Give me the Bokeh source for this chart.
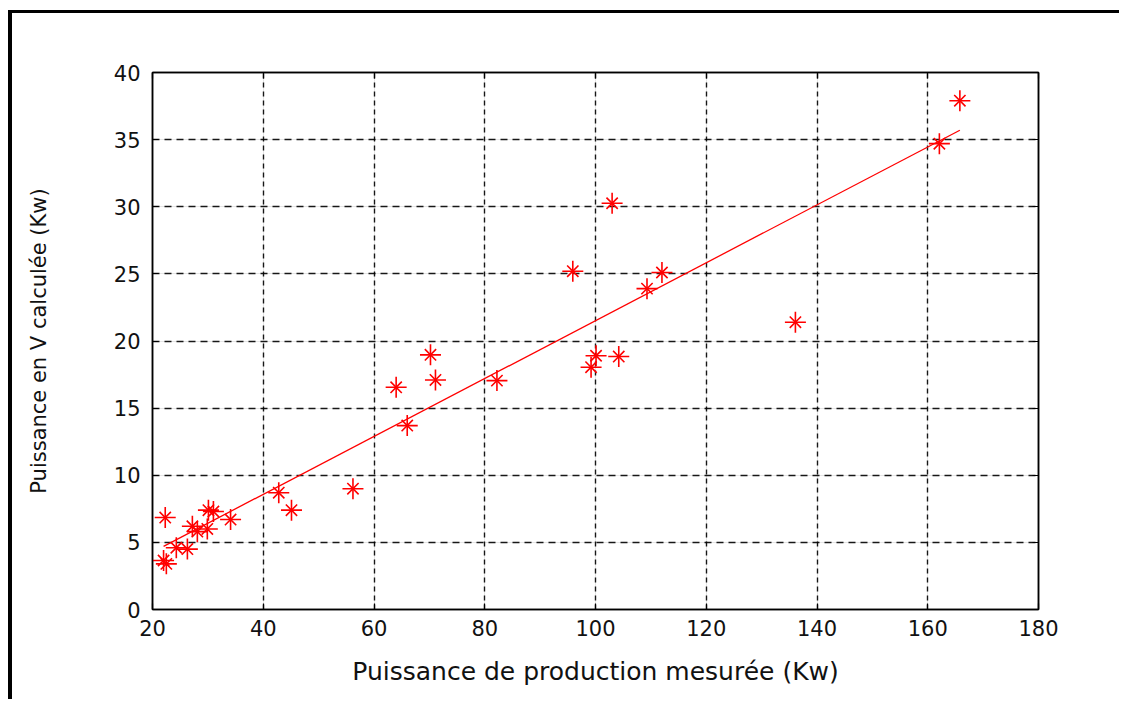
from bokeh.plotting import figure
from bokeh.models import LinearAxis, FixedTicker, Range1d, Grid
from bokeh.embed import file_html
from bokeh.resources import INLINE

# Data
measured = [22.3, 22.0, 22.5, 24.3, 26.3, 27.2, 28.1, 29.9, 30.1, 31.0, 34.1,
            42.8, 45.1, 56.2, 64.0, 66.0, 70.2, 71.1, 82.2, 95.9, 99.2, 100.1,
            103.0, 104.2, 109.3, 112.0, 136.1, 162.1, 165.8]
computed = [6.85, 3.65, 3.4, 4.6, 4.5, 6.2, 5.8, 6.0, 7.4, 7.3, 6.7,
            8.7, 7.4, 9.0, 16.55, 13.7, 18.97, 17.1, 17.05, 25.2, 18.05, 18.9,
            30.26, 18.84, 23.9, 25.1, 21.4, 34.7, 37.9]
fit_x = [22.0, 165.8]
fit_y = [4.7, 35.7]
x_ticks = [20, 40, 60, 80, 100, 120, 140, 160, 180]
y_ticks = [0, 5, 10, 15, 20, 25, 30, 35, 40]
x_title = "Puissance de production mesurée (Kw)"
y_title = "Puissance en V calculée (Kw)"

FONT = "DejaVu Sans"
OX, OY = 12, 13   # offset of the figure inside the outer frame
W, H = 1124 - OX - 1, 703 - OY - 1
p = figure(width=W, height=H, x_range=Range1d(20, 180), y_range=Range1d(0, 40),
           output_backend="svg", toolbar_location=None,
           min_border_left=152 - OX, min_border_right=W - (1038 - OX),
           min_border_top=72 - OY, min_border_bottom=H - (609 - OY),
           x_axis_location=None, y_axis_location=None)
p.background_fill_color = "white"
p.border_fill_color = "white"
p.outline_line_color = "black"
p.outline_line_width = 1.5
p.styles = {"border-left": "4px solid black", "border-top": "3px solid black",
            "margin-left": "8px", "margin-top": "10px"}

def style_axis(ax, ticks, labels=True):
    ax.ticker = FixedTicker(ticks=ticks)
    ax.major_tick_in = 6
    ax.major_tick_out = 0
    ax.minor_tick_line_color = None
    ax.axis_line_color = "black"
    ax.axis_line_width = 1.5
    ax.major_tick_line_color = "black"
    ax.major_tick_line_width = 1.2
    ax.major_label_text_font = FONT
    ax.major_label_text_font_size = "21px"
    ax.major_label_text_color = "#111111"
    if not labels:
        ax.major_label_text_font_size = "0px"
        ax.major_label_text_color = None

xb = LinearAxis(); style_axis(xb, x_ticks)
xb.major_label_standoff = 10
xb.axis_label = x_title
xb.axis_label_text_font = FONT
xb.axis_label_text_font_size = "25px"
xb.axis_label_text_font_style = "normal"
xb.axis_label_text_color = "#111111"
xb.axis_label_standoff = 18
p.add_layout(xb, "below")

xt = LinearAxis(); style_axis(xt, x_ticks, labels=False)
p.add_layout(xt, "above")

yl = LinearAxis(); style_axis(yl, y_ticks)
yl.major_label_standoff = 12
yl.axis_label = y_title
yl.axis_label_text_font = FONT
yl.axis_label_text_font_size = "21px"
yl.axis_label_text_font_style = "normal"
yl.axis_label_text_color = "#111111"
yl.axis_label_standoff = 60
p.add_layout(yl, "left")

yr = LinearAxis(); style_axis(yr, y_ticks, labels=False)
p.add_layout(yr, "right")

# grid
gx = Grid(dimension=0, ticker=FixedTicker(ticks=x_ticks), grid_line_color="black",
          grid_line_width=1.4, grid_line_dash="5 4", grid_line_alpha=0.9)
gy = Grid(dimension=1, ticker=FixedTicker(ticks=y_ticks), grid_line_color="black",
          grid_line_width=1.4, grid_line_dash="7 5", grid_line_alpha=0.9)
p.add_layout(gx)
p.add_layout(gy)

# regression line
p.line(fit_x, fit_y, line_color="#FF0000", line_width=1.3)

# asterisk markers (MATLAB '*')
p.scatter(measured, computed, marker="cross", size=21, line_color="#FF0000",
          line_width=1.6, fill_color=None)
p.scatter(measured, computed, marker="x", size=16, line_color="#FF0000",
          line_width=1.6, fill_color=None)

open("out.html", "w").write(file_html(p, INLINE))
